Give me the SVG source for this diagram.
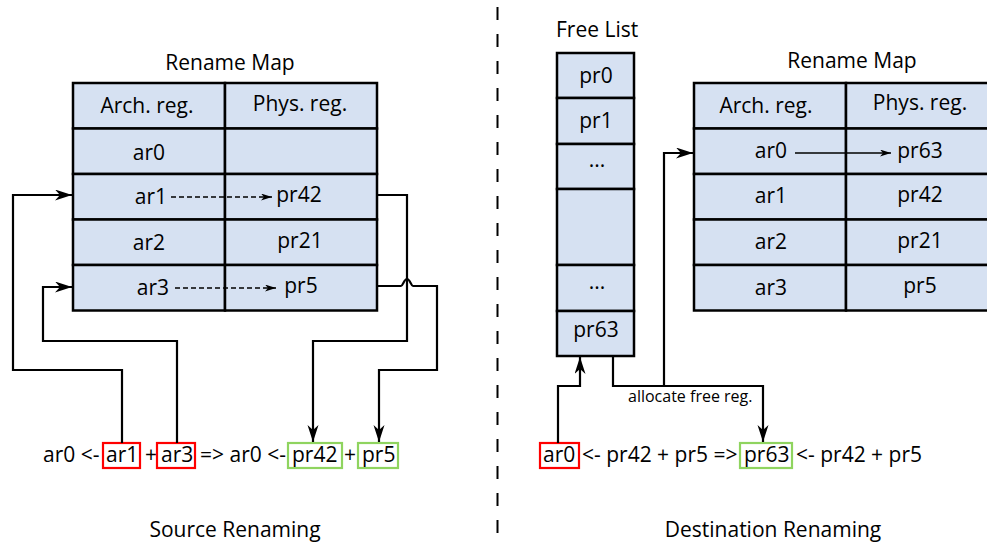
<svg xmlns="http://www.w3.org/2000/svg" width="987" height="544" viewBox="0 0 987 544">
<style>
text{font-family:"Open Sans","Noto Sans","Liberation Sans",sans-serif;font-size:21px;fill:#000}
.c{text-anchor:middle}
.cell{fill:#d6e1f2;stroke:#000;stroke-width:2.5}
.wire{fill:none;stroke:#000;stroke-width:2.2}
.dash{fill:none;stroke:#000;stroke-width:1.3;stroke-dasharray:5 3}
.red{fill:none;stroke:#ff0000;stroke-width:2.2}
.grn{fill:none;stroke:#8fd45f;stroke-width:2.2}
.small{font-size:16px}
</style>
<defs>
<marker id="ah" markerUnits="userSpaceOnUse" markerWidth="18" markerHeight="12" refX="17" refY="5.5" orient="auto">
<path d="M0,0 L17,5.5 L0,11 L5,5.5 z" fill="#000"/>
</marker>
<marker id="as" markerUnits="userSpaceOnUse" markerWidth="11" markerHeight="8" refX="11" refY="3.5" orient="auto">
<path d="M0,0 L11,3.5 L0,7 L3,3.5 z" fill="#000"/>
</marker>
</defs>

<line x1="497.5" y1="7" x2="497.5" y2="544" stroke="#000" stroke-width="2" stroke-dasharray="13 14"/>

<g id="left-map">
<text class="c" x="230" y="70">Rename Map</text>
<rect class="cell" x="73" y="83" width="152" height="45.5"/>
<rect class="cell" x="225" y="83" width="152" height="45.5"/>
<rect class="cell" x="73" y="128.5" width="152" height="45.5"/>
<rect class="cell" x="225" y="128.5" width="152" height="45.5"/>
<rect class="cell" x="73" y="174" width="152" height="45.5"/>
<rect class="cell" x="225" y="174" width="152" height="45.5"/>
<rect class="cell" x="73" y="219.5" width="152" height="45.5"/>
<rect class="cell" x="225" y="219.5" width="152" height="45.5"/>
<rect class="cell" x="73" y="265" width="152" height="45.5"/>
<rect class="cell" x="225" y="265" width="152" height="45.5"/>
<text class="c" x="147" y="113">Arch. reg.</text>
<text class="c" x="300" y="111">Phys. reg.</text>
<text class="c" x="149" y="160">ar0</text>
<text class="c" x="151" y="204">ar1</text>
<text class="c" x="299" y="202">pr42</text>
<text class="c" x="149" y="250">ar2</text>
<text class="c" x="300" y="248">pr21</text>
<text class="c" x="153" y="295">ar3</text>
<text class="c" x="301" y="293">pr5</text>
<line class="dash" x1="171" y1="197" x2="272" y2="197" marker-end="url(#as)"/>
<line class="dash" x1="175" y1="288" x2="276" y2="288" marker-end="url(#as)"/>
</g>

<g id="left-expr">
<text x="43" y="462">ar0 &lt;-</text>
<rect class="red" x="103" y="443" width="37" height="25"/>
<text x="106" y="462">ar1</text>
<text x="145" y="462">+</text>
<rect class="red" x="157" y="443" width="38" height="25"/>
<text x="161" y="462">ar3</text>
<text x="200" y="462">=&gt; ar0 &lt;-</text>
<rect class="grn" x="288" y="443" width="54" height="25"/>
<text x="292" y="462">pr42</text>
<text x="344" y="462">+</text>
<rect class="grn" x="358" y="443" width="40" height="25"/>
<text x="362" y="462">pr5</text>
<text class="c" x="235" y="537">Source Renaming</text>
</g>

<g id="free-list">
<text x="556" y="37">Free List</text>
<rect class="cell" x="557" y="53" width="77" height="45"/>
<rect class="cell" x="557" y="98" width="77" height="46"/>
<rect class="cell" x="557" y="144" width="77" height="45"/>
<rect class="cell" x="557" y="189" width="77" height="76"/>
<rect class="cell" x="557" y="265" width="77" height="46"/>
<rect class="cell" x="557" y="311" width="77" height="45"/>
<text class="c" x="596" y="83">pr0</text>
<text class="c" x="596" y="128">pr1</text>
<text class="c" x="597" y="167">...</text>
<text class="c" x="597" y="289">...</text>
<text class="c" x="596" y="337">pr63</text>
</g>

<g id="right-map">
<text class="c" x="852" y="68">Rename Map</text>
<rect class="cell" x="694" y="83" width="152" height="45.5"/>
<rect class="cell" x="846" y="83" width="150" height="45.5"/>
<rect class="cell" x="694" y="128.5" width="152" height="45.5"/>
<rect class="cell" x="846" y="128.5" width="150" height="45.5"/>
<rect class="cell" x="694" y="174" width="152" height="45.5"/>
<rect class="cell" x="846" y="174" width="150" height="45.5"/>
<rect class="cell" x="694" y="219.5" width="152" height="45.5"/>
<rect class="cell" x="846" y="219.5" width="150" height="45.5"/>
<rect class="cell" x="694" y="265" width="152" height="45.5"/>
<rect class="cell" x="846" y="265" width="150" height="45.5"/>
<text class="c" x="766" y="113">Arch. reg.</text>
<text class="c" x="920" y="110">Phys. reg.</text>
<text class="c" x="771" y="158">ar0</text>
<text class="c" x="920" y="158">pr63</text>
<text class="c" x="771" y="203">ar1</text>
<text class="c" x="920" y="202">pr42</text>
<text class="c" x="771" y="249">ar2</text>
<text class="c" x="920" y="248">pr21</text>
<text class="c" x="771" y="295">ar3</text>
<text class="c" x="920" y="293">pr5</text>
<line x1="795" y1="153" x2="891" y2="153" stroke="#000" stroke-width="1.3" marker-end="url(#as)"/>
</g>

<g id="right-expr">
<rect class="red" x="540" y="443" width="39" height="25"/>
<text x="543" y="462">ar0</text>
<text x="582" y="462">&lt;- pr42 + pr5 =&gt;</text>
<rect class="grn" x="740" y="443" width="52" height="25"/>
<text x="744" y="462">pr63</text>
<text x="796" y="462">&lt;- pr42 + pr5</text>
<text class="c" x="773" y="537">Destination Renaming</text>
</g>

<g id="connectors">
<path class="wire" d="M122,443 V370 H13 V195 H72" marker-end="url(#ah)"/>
<path class="wire" d="M177,443 V341 H43 V287 H72" marker-end="url(#ah)"/>
<path class="wire" d="M377,195 H407 V341 H313 V442" marker-end="url(#ah)"/>
<path class="wire" d="M377,286 H401 C403,286 404,279 407,279 C410,279 411,286 413,286 H437 V370 H379 V442" marker-end="url(#ah)"/>
<path class="wire" d="M558,443 V386 H580 V357" marker-end="url(#ah)"/>
<path class="wire" d="M613,356 V386 H763 V442" marker-end="url(#ah)"/>
<path class="wire" d="M664,386 V153 H693" marker-end="url(#ah)"/>
<text class="small" x="628" y="402">allocate free reg.</text>
</g>
</svg>
